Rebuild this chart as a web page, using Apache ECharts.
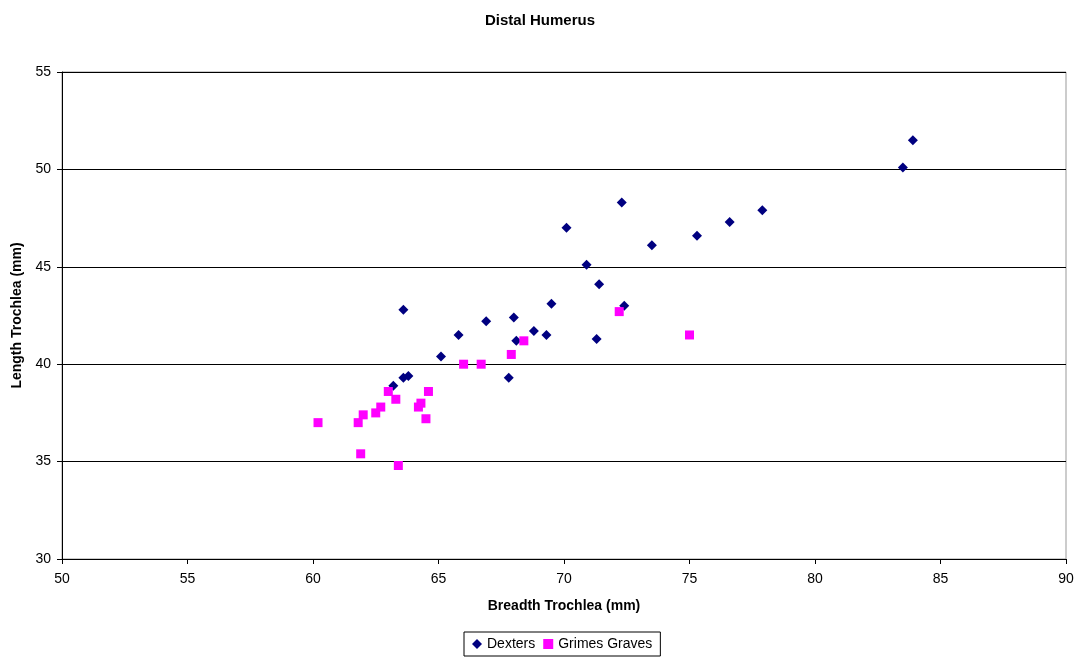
<!DOCTYPE html>
<html>
<head>
<meta charset="utf-8">
<script src="https://cdn.jsdelivr.net/npm/echarts@6/dist/echarts.min.js"></script>
<style>
  html, body { margin: 0; padding: 0; background: #fff; }
  #main { width: 1080px; height: 657px; }
</style>
</head>
<body>
<div id="main"></div>
<script>
// breadth / length pairs
var dexters = [
    [83.9, 51.5], [83.5, 50.1], [77.9, 47.9], [76.6, 47.3], [75.3, 46.6],
    [73.5, 46.1], [72.3, 48.3], [70.1, 47.0], [70.9, 45.1], [71.4, 44.1],
    [69.5, 43.1], [72.4, 43.0], [66.9, 42.2], [68.0, 42.4], [65.8, 41.5],
    [68.8, 41.7], [69.3, 41.5], [68.1, 41.2], [71.3, 41.3], [63.6, 42.8],
    [65.1, 40.4], [63.6, 39.3], [63.8, 39.4], [63.2, 38.9], [67.8, 39.3]
];
var grimesGraves = [
    [72.2, 42.7], [75.0, 41.5], [68.4, 41.2], [67.9, 40.5], [66.0, 40.0],
    [66.7, 40.0], [63.0, 38.6], [64.6, 38.6], [63.3, 38.2], [64.3, 38.0],
    [64.2, 37.8], [62.7, 37.8], [62.5, 37.5], [62.0, 37.4], [61.8, 37.0],
    [60.2, 37.0], [64.5, 37.2], [61.9, 35.4], [63.4, 34.8]
];
var seriesNames = ['Dexters', 'Grimes Graves'];

var chart = echarts.init(document.getElementById('main'));
var font = 'Liberation Sans, Arial, sans-serif';

var option = {
    backgroundColor: '#fff',
    animation: false,
    textStyle: { fontFamily: font },
    title: {
        text: 'Distal Humerus',
        left: 'center',
        top: 8,
        textStyle: { fontSize: 15, fontWeight: 'bold', color: '#000', fontFamily: font }
    },
    // legend sits under the middle of the plot, not the canvas
    legend: {
        bottom: 1,
        left: 464,
        itemGap: 8,
        itemWidth: 10,
        itemHeight: 10,
        padding: [5, 8],
        borderColor: '#000',
        borderWidth: 1,
        textStyle: { fontSize: 14, color: '#000', fontFamily: font },
        data: [
            { name: seriesNames[0], icon: 'diamond' },
            { name: seriesNames[1], icon: 'rect' }
        ]
    },
    grid: {
        left: 62, right: 14, top: 72, bottom: 98,
        show: true,
        borderColor: '#999',
        borderWidth: 1
    },
    xAxis: {
        type: 'value',
        min: 50, max: 90, interval: 5,
        name: 'Breadth Trochlea (mm)',
        nameLocation: 'middle',
        nameGap: 40,
        nameTextStyle: { fontSize: 14, fontWeight: 'bold', color: '#000' },
        axisLine: { lineStyle: { color: '#000' } },
        axisTick: { show: true, inside: false, length: 5, lineStyle: { color: '#000' } },
        axisLabel: { fontSize: 14, color: '#000', margin: 13 },
        splitLine: { show: false }
    },
    yAxis: {
        type: 'value',
        min: 30, max: 55, interval: 5,
        name: 'Length Trochlea (mm)',
        nameLocation: 'middle',
        nameGap: 36,
        nameTextStyle: { fontSize: 14, fontWeight: 'bold', color: '#000' },
        axisLine: { show: true, lineStyle: { color: '#000' } },
        axisTick: { show: true, inside: false, length: 5, lineStyle: { color: '#000' } },
        axisLabel: { fontSize: 14, color: '#000', margin: 11 },
        splitLine: { show: true, lineStyle: { color: '#000', width: 1 } }
    },
    series: [
        {
            name: seriesNames[0],
            type: 'scatter',
            symbol: 'diamond',
            symbolSize: 10,
            itemStyle: { color: '#000080', opacity: 1 },
            data: dexters
        },
        {
            name: seriesNames[1],
            type: 'scatter',
            symbol: 'rect',
            symbolSize: 9,
            itemStyle: { color: '#ff00ff', opacity: 1 },
            data: grimesGraves
        }
    ]
};
chart.setOption(option);
</script>
</body>
</html>
